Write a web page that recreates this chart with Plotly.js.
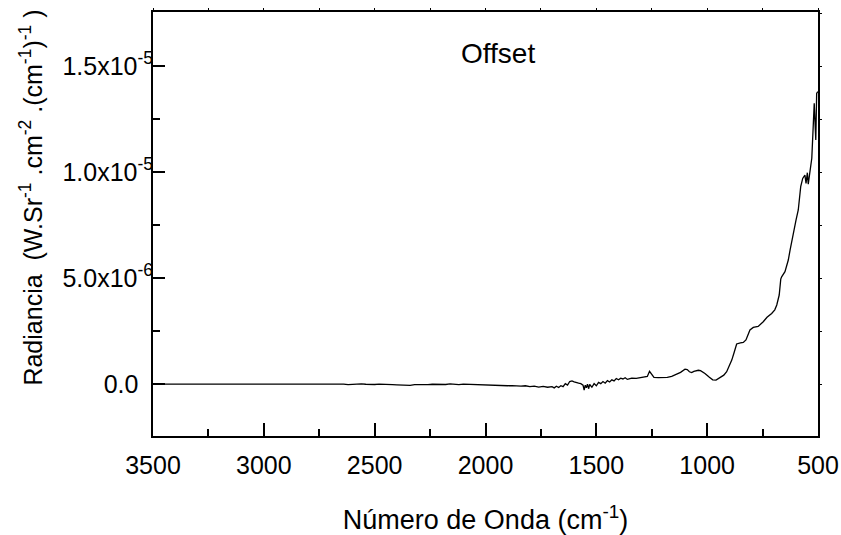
<!DOCTYPE html>
<html>
<head>
<meta charset="utf-8">
<script src="https://cdn.plot.ly/plotly-3.0.1.min.js"></script>
<style>html,body{margin:0;padding:0;background:#fff;} #chart{width:841px;height:535px;}</style>
</head>
<body>
<div id="chart"></div>
<script>
// Wavenumber (cm^-1)
const wavenumber = [3500,3300,3000,2800,2720,2700,2680,2660,2640,2620,2600,2580,2560,2540,2520,2500,2480,2460,2440,2420,2400,2380,2360,2340,2320,2300,2280,2260,2240,2220,2200,2180,2160,2140,2120,2100,2080,2060,2040,2020,2000,1980,1960,1940,1920,1900,1880,1860,1840,1820,1800,1780,1760,1740,1720,1700,1690,1680,1670,1660,1650,1640,1630,1620,1610,1600,1590,1580,1570,1560,1555,1550,1545,1540,1535,1530,1520,1510,1500,1490,1480,1470,1460,1450,1440,1430,1420,1410,1400,1390,1380,1370,1360,1350,1340,1320,1300,1280,1270,1260,1250,1240,1220,1200,1180,1160,1140,1120,1100,1090,1080,1070,1060,1040,1030,1010,990,975,960,940,925,912,900,889,878,867,850,837,825,815,807,792,770,747,730,709,695,686,675,668,664,649,634,626,611,599,589,584,578,569,559,554,548,544,536,528,521,517,510,506,501];
// Radiance in units of 1e-6 W.Sr^-1.cm^-2.(cm^-1)^-1
const radiance = [0,0,0,0,0,-0.01,0.01,-0.02,0.00,-0.03,-0.01,-0.02,0.01,-0.01,-0.03,-0.02,0.00,-0.02,-0.01,-0.03,-0.04,-0.05,-0.04,-0.06,-0.03,-0.04,-0.02,-0.03,-0.01,-0.02,0.00,-0.02,0.01,-0.01,-0.03,0.00,-0.01,0.01,-0.02,-0.04,-0.05,-0.06,-0.05,-0.07,-0.06,-0.08,-0.07,-0.09,-0.10,-0.08,-0.12,-0.10,-0.14,-0.11,-0.15,-0.12,-0.18,-0.10,-0.16,-0.08,-0.12,0.02,-0.05,0.12,0.15,0.10,0.06,0.04,0.02,-0.05,-0.28,-0.05,-0.18,0.00,-0.22,-0.02,-0.15,0.02,-0.08,0.08,0.02,0.12,0.04,0.16,0.10,0.20,0.15,0.26,0.20,0.28,0.24,0.30,0.22,0.24,0.28,0.27,0.31,0.32,0.36,0.60,0.45,0.32,0.30,0.30,0.32,0.36,0.44,0.55,0.70,0.68,0.58,0.54,0.60,0.65,0.63,0.50,0.32,0.20,0.19,0.30,0.42,0.58,0.85,1.13,1.50,1.89,1.94,1.96,2.08,2.40,2.55,2.67,2.72,2.94,3.15,3.33,3.50,3.73,4.20,4.95,5.06,5.30,5.85,6.32,7.18,7.74,8.21,8.68,9.31,9.70,9.86,9.47,9.97,9.43,10.17,10.65,12.30,13.24,11.51,13.71,13.79];

const yTickVals = [0, 5, 10, 15];
const yTickText = ['0.0<sup>&nbsp;&nbsp;&nbsp;</sup>', '5.0x10<sup>-6</sup>', '1.0x10<sup>-5</sup>', '1.5x10<sup>-5</sup>'];
const yMinorVals = [2.5, 7.5, 12.5];
const xRange = [3500, 500];
const yRange = [-2.45, 17.55];

const FONT = 'Liberation Sans, Arial, sans-serif';

const traces = [
  {x: wavenumber, y: radiance, type: 'scatter', mode: 'lines',
   line: {color: '#000', width: 1.3}, hoverinfo: 'skip', showlegend: false},
  {x: [], y: [], type: 'scatter', mode: 'lines', xaxis: 'x2', yaxis: 'y2', showlegend: false, hoverinfo: 'skip'}
];

const layout = {
  width: 841, height: 535,
  margin: {l: 153, r: 23, t: 12, b: 99},
  paper_bgcolor: '#fff', plot_bgcolor: '#fff',
  font: {family: FONT, color: '#000'},
  showlegend: false,
  xaxis: {
    range: xRange, autorange: false,
    tickmode: 'linear', tick0: 500, dtick: 500,
    ticks: 'inside', ticklen: 13, tickwidth: 2, tickcolor: '#000',
    minor: {tickmode: 'linear', tick0: 500, dtick: 250, ticks: 'inside', ticklen: 7, tickwidth: 2, tickcolor: '#000', showgrid: false},
    showline: true, linecolor: '#000', linewidth: 2, mirror: true,
    showgrid: false, zeroline: false,
    tickfont: {size: 25, family: FONT, color: '#000'},
    ticklabelstandoff: 6,
    title: {text: 'Número de Onda (cm<sup>-1</sup>)', font: {size: 27, family: FONT, color: '#000'}, standoff: 33}
  },
  yaxis: {
    range: yRange, autorange: false,
    tickmode: 'array', tickvals: yTickVals, ticktext: yTickText,
    ticks: 'inside', ticklen: 12, tickwidth: 2, tickcolor: '#000',
    minor: {tickmode: 'array', tickvals: yMinorVals, ticks: 'inside', ticklen: 7, tickwidth: 2, tickcolor: '#000', showgrid: false},
    showline: true, linecolor: '#000', linewidth: 2, mirror: true,
    showgrid: false, zeroline: false,
    tickfont: {size: 25, family: FONT, color: '#000'},
    ticklabelstandoff: -7
  },
  xaxis2: {
    overlaying: 'x', side: 'top', anchor: 'y2',
    range: xRange, autorange: false,
    tickmode: 'linear', tick0: 500, dtick: 250,
    ticks: 'outside', ticklen: 3, tickwidth: 1, tickcolor: '#000',
    showticklabels: false, showline: false, showgrid: false, zeroline: false
  },
  yaxis2: {
    overlaying: 'y', side: 'right', anchor: 'x2',
    range: yRange, autorange: false,
    tickmode: 'linear', tick0: 0, dtick: 2.5,
    ticks: 'outside', ticklen: 3, tickwidth: 1, tickcolor: '#000',
    showticklabels: false, showline: false, showgrid: false, zeroline: false
  },
  annotations: [
    {text: 'Offset', xref: 'paper', yref: 'paper', x: 0.519, y: 0.903,
     xanchor: 'center', yanchor: 'middle', showarrow: false,
     font: {size: 28, family: FONT, color: '#000'}},
    {text: 'Radiancia&nbsp; (W.Sr<sup>-1</sup>&nbsp;.cm<sup>-2</sup>&nbsp;.(cm<sup>-1</sup>)<sup>-1</sup>&nbsp;)',
     xref: 'paper', yref: 'paper', x: -0.183, y: 0.563, textangle: -90,
     xanchor: 'center', yanchor: 'middle', showarrow: false,
     font: {size: 25, family: FONT, color: '#000'}}
  ]
};

Plotly.newPlot('chart', traces, layout, {displayModeBar: false, staticPlot: true});
</script>
</body>
</html>
